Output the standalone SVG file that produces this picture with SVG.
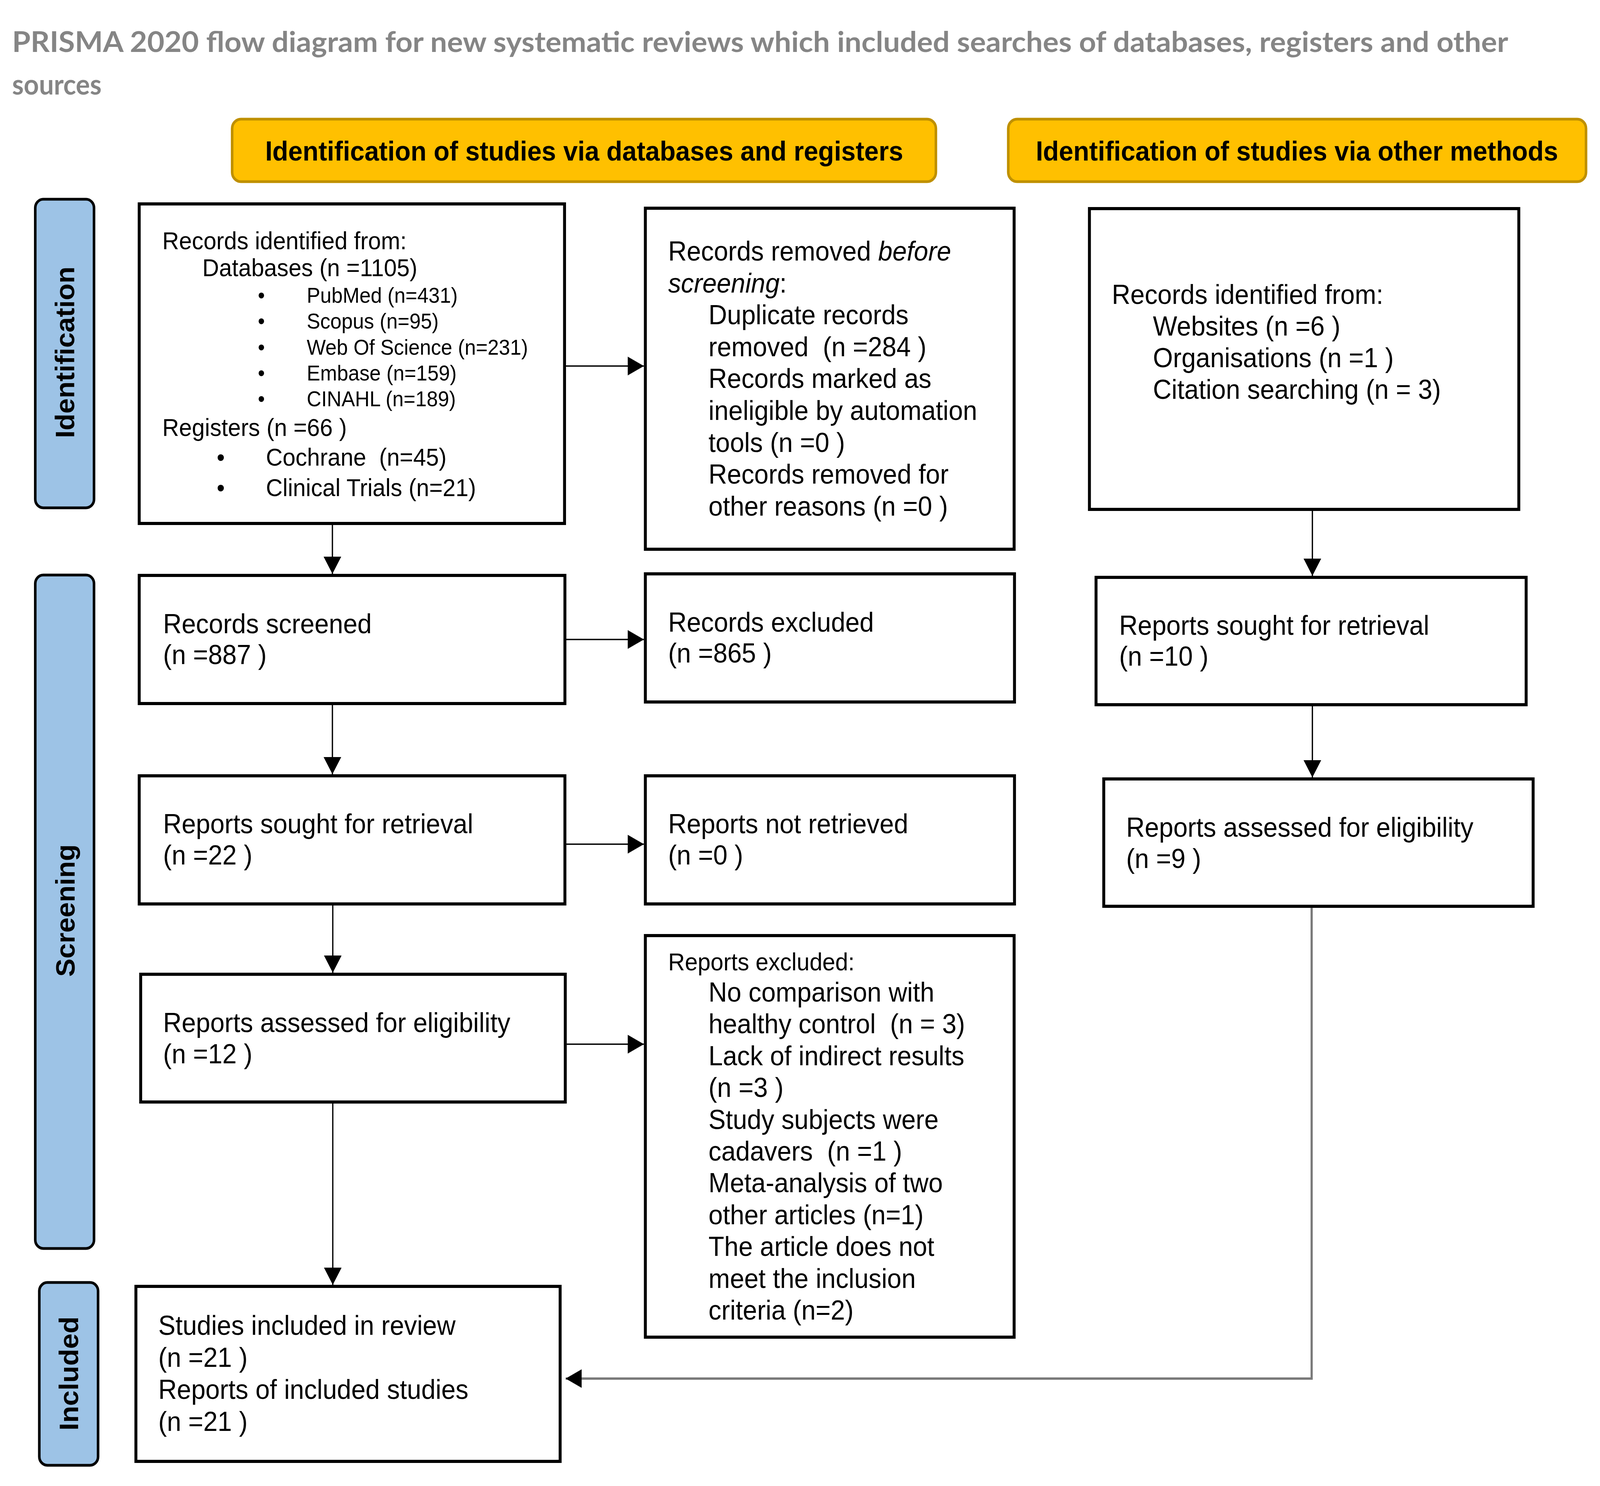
<svg xmlns="http://www.w3.org/2000/svg" width="4356" height="3804" viewBox="0 0 4356 3804">
<style>
  .box { fill: #ffffff; stroke: #000000; stroke-width: 8; }
  .hdr { fill: #FFC000; stroke: #BF9000; stroke-width: 7; }
  .side { fill: #9DC3E6; stroke: #000000; stroke-width: 7; }
  .t { font-family: "Liberation Sans", Arial, sans-serif; font-size: 70px; fill: #000000; }
  .t63 { font-family: "Liberation Sans", Arial, sans-serif; font-size: 63px; fill: #000000; }
  .t55 { font-family: "Liberation Sans", Arial, sans-serif; font-size: 55px; fill: #000000; }
  .ht { font-family: "Liberation Sans", Arial, sans-serif; font-size: 70px; font-weight: bold; fill: #000000; }
  .st { font-family: "Liberation Sans", Arial, sans-serif; font-size: 72px; font-weight: bold; fill: #000000; text-anchor: middle; }
  .title { font-family: Lato, "Open Sans", sans-serif; font-size: 72px; font-weight: bold; fill: #858585; }
  .conn { fill: none; stroke: #000000; stroke-width: 3.5; marker-end: url(#arrow); }
  .conng { fill: none; stroke: #7a7a7a; stroke-width: 6; marker-end: url(#arrow); }
</style>
<defs>
  <marker id="arrow" markerUnits="userSpaceOnUse" markerWidth="44" markerHeight="48" refX="44" refY="24" orient="auto">
    <path d="M0,0 L44,24 L0,48 z" fill="#000000"/>
  </marker>
</defs>

<rect x="0" y="0" width="4356" height="3804" fill="#ffffff"/>

<g id="diagram" transform="scale(0.9403 1)">

<g id="title">
  <text class="title" x="33" y="133" textLength="4073" lengthAdjust="spacingAndGlyphs">PRISMA 2020 flow diagram for new systematic reviews which included searches of databases, registers and other</text>
  <text class="title" x="33" y="242">sources</text>
</g>

<g id="header-databases">
  <rect class="hdr" x="632" y="305" width="1916" height="160" rx="24"/>
  <text class="ht" x="722" y="411" textLength="1737" lengthAdjust="spacingAndGlyphs">Identification of studies via databases and registers</text>
</g>
<g id="header-other">
  <rect class="hdr" x="2745" y="305" width="1573" height="160" rx="24"/>
  <text class="ht" x="2820" y="411" textLength="1422" lengthAdjust="spacingAndGlyphs">Identification of studies via other methods</text>
</g>

<g id="stage-identification">
  <rect class="side" x="96" y="510" width="160" height="790" rx="22"/>
  <text class="st" transform="translate(202,902) rotate(-90)" textLength="439" lengthAdjust="spacingAndGlyphs">Identification</text>
</g>
<g id="stage-screening">
  <rect class="side" x="96" y="1472" width="160" height="1724" rx="22"/>
  <text class="st" transform="translate(203,2331) rotate(-90)" textLength="339" lengthAdjust="spacingAndGlyphs">Screening</text>
</g>
<g id="stage-included">
  <rect class="side" x="107" y="3283" width="160" height="468" rx="22"/>
  <text class="st" transform="translate(213,3516) rotate(-90)" textLength="292" lengthAdjust="spacingAndGlyphs">Included</text>
</g>

<g id="records-identified-db">
  <rect class="box" x="379" y="522" width="1158" height="818"/>
  <text class="t63" x="442" y="638">Records identified from:</text>
  <text class="t63" x="551" y="707">Databases (n =1105)</text>
  <text class="t55" x="702" y="775">•</text><text class="t55" x="835" y="775">PubMed (n=431)</text>
  <text class="t55" x="702" y="841">•</text><text class="t55" x="835" y="841">Scopus (n=95)</text>
  <text class="t55" x="702" y="908">•</text><text class="t55" x="835" y="908">Web Of Science (n=231)</text>
  <text class="t55" x="702" y="974">•</text><text class="t55" x="835" y="974">Embase (n=159)</text>
  <text class="t55" x="702" y="1040">•</text><text class="t55" x="835" y="1040">CINAHL (n=189)</text>
  <text class="t63" x="442" y="1116">Registers (n =66 )</text>
  <text class="t63" x="590" y="1192">•</text><text class="t63" x="724" y="1192" xml:space="preserve">Cochrane  (n=45)</text>
  <text class="t63" x="590" y="1270">•</text><text class="t63" x="724" y="1270">Clinical Trials (n=21)</text>
</g>

<g id="records-removed">
  <rect class="box" x="1757" y="533" width="1004" height="873"/>
  <text class="t" x="1819" y="667">Records removed <tspan font-style="italic">before</tspan></text>
  <text class="t" x="1819" y="749"><tspan font-style="italic">screening</tspan>:</text>
  <text class="t" x="1929" y="830">Duplicate records</text>
  <text class="t" x="1929" y="912" xml:space="preserve">removed  (n =284 )</text>
  <text class="t" x="1929" y="993">Records marked as</text>
  <text class="t" x="1929" y="1075">ineligible by automation</text>
  <text class="t" x="1929" y="1157">tools (n =0 )</text>
  <text class="t" x="1929" y="1238">Records removed for</text>
  <text class="t" x="1929" y="1320">other reasons (n =0 )</text>
</g>

<g id="records-identified-other">
  <rect class="box" x="2966" y="534" width="1169" height="770"/>
  <text class="t" x="3027" y="778">Records identified from:</text>
  <text class="t" x="3139" y="859">Websites (n =6 )</text>
  <text class="t" x="3139" y="940">Organisations (n =1 )</text>
  <text class="t" x="3139" y="1021">Citation searching (n = 3)</text>
</g>

<g id="records-screened">
  <rect class="box" x="379" y="1473" width="1159" height="328"/>
  <text class="t" x="444" y="1621">Records screened</text>
  <text class="t" x="444" y="1700">(n =887 )</text>
</g>

<g id="records-excluded">
  <rect class="box" x="1757" y="1469" width="1005" height="328"/>
  <text class="t" x="1819" y="1617">Records excluded</text>
  <text class="t" x="1819" y="1696">(n =865 )</text>
</g>

<g id="reports-sought-other">
  <rect class="box" x="2984" y="1478" width="1171" height="326"/>
  <text class="t" x="3047" y="1625">Reports sought for retrieval</text>
  <text class="t" x="3047" y="1704">(n =10 )</text>
</g>

<g id="reports-sought-db">
  <rect class="box" x="379" y="1986" width="1159" height="328"/>
  <text class="t" x="444" y="2133">Reports sought for retrieval</text>
  <text class="t" x="444" y="2213">(n =22 )</text>
</g>

<g id="reports-not-retrieved">
  <rect class="box" x="1757" y="1986" width="1005" height="328"/>
  <text class="t" x="1819" y="2133">Reports not retrieved</text>
  <text class="t" x="1819" y="2213">(n =0 )</text>
</g>

<g id="reports-assessed-other">
  <rect class="box" x="3005" y="1994" width="1169" height="326"/>
  <text class="t" x="3066" y="2142">Reports assessed for eligibility</text>
  <text class="t" x="3066" y="2222">(n =9 )</text>
</g>

<g id="reports-assessed-db">
  <rect class="box" x="383" y="2494" width="1156" height="327"/>
  <text class="t" x="444" y="2642">Reports assessed for eligibility</text>
  <text class="t" x="444" y="2722">(n =12 )</text>
</g>

<g id="reports-excluded">
  <rect class="box" x="1757" y="2395" width="1004" height="1028"/>
  <text class="t63" x="1819" y="2484">Reports excluded:</text>
  <text class="t" x="1929" y="2564">No comparison with</text>
  <text class="t" x="1929" y="2645" xml:space="preserve">healthy control  (n = 3)</text>
  <text class="t" x="1929" y="2727">Lack of indirect results</text>
  <text class="t" x="1929" y="2808">(n =3 )</text>
  <text class="t" x="1929" y="2890">Study subjects were</text>
  <text class="t" x="1929" y="2971" xml:space="preserve">cadavers  (n =1 )</text>
  <text class="t" x="1929" y="3052">Meta-analysis of two</text>
  <text class="t" x="1929" y="3134">other articles (n=1)</text>
  <text class="t" x="1929" y="3215">The article does not</text>
  <text class="t" x="1929" y="3297">meet the inclusion</text>
  <text class="t" x="1929" y="3378">criteria (n=2)</text>
</g>

<g id="studies-included">
  <rect class="box" x="370" y="3293" width="1155" height="448"/>
  <text class="t" x="431" y="3417">Studies included in review</text>
  <text class="t" x="431" y="3499">(n =21 )</text>
  <text class="t" x="431" y="3581">Reports of included studies</text>
  <text class="t" x="431" y="3663">(n =21 )</text>
</g>

<g id="connectors">
  <path class="conn" d="M1541,937 H1753"/>
  <path class="conn" d="M1542,1637 H1753"/>
  <path class="conn" d="M1542,2161 H1753"/>
  <path class="conn" d="M1543,2673 H1753"/>
  <path class="conn" d="M905,1344 V1469"/>
  <path class="conn" d="M905,1805 V1982"/>
  <path class="conn" d="M906,2318 V2490"/>
  <path class="conn" d="M906,2825 V3289"/>
  <path class="conn" d="M3573,1308 V1474"/>
  <path class="conn" d="M3573,1808 V1990"/>
  <path class="conng" d="M3571,2324 V3529 H1540"/>
</g>

</g>
</svg>
